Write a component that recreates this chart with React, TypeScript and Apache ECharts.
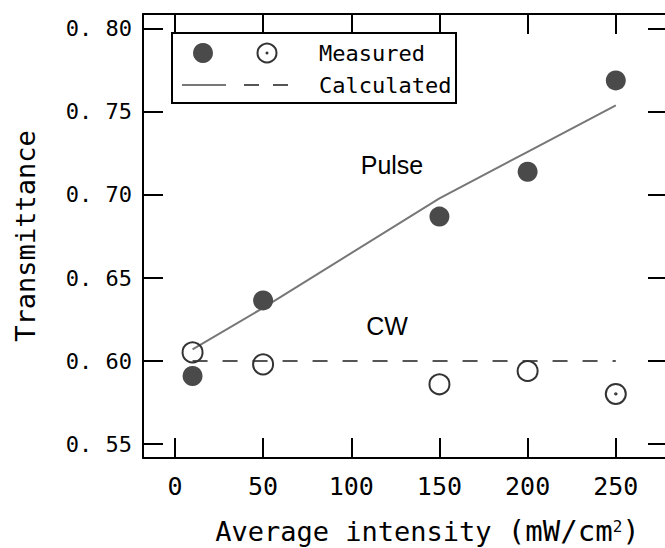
import React, { useEffect, useRef } from "react";
import * as echarts from "echarts";

const xTicks = [0, 50, 100, 150, 200, 250];
const yTicks = [0.55, 0.6, 0.65, 0.7, 0.75, 0.8];

const intensity = [10, 50, 150, 200, 250];
const pulseMeasured = [0.591, 0.6365, 0.687, 0.714, 0.769];
const cwMeasured = [0.6052, 0.598, 0.586, 0.594, 0.5802];
const pulseCalculated = [0.607, 0.632, 0.698, 0.726, 0.754];
const cwCalcX = [10, 250];
const cwCalculated = [0.6, 0.6];

const MONO = "'DejaVu Sans Mono', 'Liberation Mono', monospace";
const SANS = "'Liberation Sans', Arial, sans-serif";

export default function App() {
  const ref = useRef<HTMLDivElement>(null);
  useEffect(() => {
    if (!ref.current) return;
    const chart = echarts.init(ref.current, null, { renderer: "svg" });
    const axisLine = { show: true, onZero: false, lineStyle: { color: "#000", width: 2 } };
    const tick = (vals: number[]) => ({
      show: true,
      inside: true,
      length: 20,
      customValues: vals,
      lineStyle: { color: "#000", width: 2 },
    });
    const xMin = -18.1;
    const xMax = 279.6;
    const yMin = 0.5416;
    const yMax = 0.809;
    const ringPath =
      "path://M0,-10A10,10,0,1,1,0,10A10,10,0,1,1,0,-10Z M0,-0.7A0.7,0.7,0,1,1,0,0.7A0.7,0.7,0,1,1,0,-0.7Z";
    chart.setOption({
      animation: false,
      grid: { left: 143, top: 14, bottom: 90, right: -3, outerBoundsMode: "none", containLabel: false },
      xAxis: [
        {
          type: "value",
          min: xMin,
          max: xMax,
          position: "bottom",
          axisLine,
          axisTick: tick(xTicks),
          splitLine: { show: false },
          axisLabel: {
            customValues: xTicks,
            margin: 16,
            fontFamily: MONO,
            fontSize: 25,
            color: "#000",
          },
          name: "{a|Average intensity }{b|(mW/cm}{s|2}{b|)}",
          nameLocation: "middle",
          nameGap: 60,
          nameTextStyle: {
            padding: [0, 0, 0, 44],
            lineHeight: 26,
            rich: {
              a: { fontFamily: MONO, fontSize: 27, color: "#000", lineHeight: 26 },
              b: { fontFamily: MONO, fontSize: 29, color: "#000", lineHeight: 26 },
              s: { fontFamily: MONO, fontSize: 16, color: "#000", verticalAlign: "top", lineHeight: 16 },
            },
          },
        },
        {
          type: "value",
          min: xMin,
          max: xMax,
          position: "top",
          axisLine,
          axisTick: tick(xTicks),
          splitLine: { show: false },
          axisLabel: { show: false },
        },
      ],
      yAxis: [
        {
          type: "value",
          min: yMin,
          max: yMax,
          position: "left",
          axisLine,
          axisTick: tick(yTicks),
          splitLine: { show: false },
          axisLabel: {
            customValues: yTicks,
            margin: 11,
            fontFamily: MONO,
            fontSize: 22,
            color: "#000",
            formatter: (v: number) => "0. " + Math.round(v * 100),
          },
          name: "Transmittance",
          nameLocation: "middle",
          nameGap: 104,
          nameTextStyle: { fontFamily: MONO, fontSize: 27, color: "#000" },
        },
        {
          type: "value",
          min: yMin,
          max: yMax,
          position: "right",
          axisLine: { show: false, onZero: false },
          axisTick: {
            show: true,
            inside: true,
            length: 20,
            customValues: yTicks,
            lineStyle: { color: "#000", width: 2, cap: "butt" },
          },
          splitLine: { show: false },
          axisLabel: { show: false },
        },
      ],
      series: [
        {
          name: "Calculated (Pulse)",
          type: "line",
          data: intensity.map((x, i) => [x, pulseCalculated[i]]),
          showSymbol: false,
          symbol: "none",
          lineStyle: { color: "#777", width: 2 },
          z: 2,
        },
        {
          name: "Calculated (CW)",
          type: "line",
          data: cwCalcX.map((x, i) => [x, cwCalculated[i]]),
          showSymbol: false,
          symbol: "none",
          lineStyle: { color: "#555", width: 2, type: [15, 15] },
          z: 2,
        },
        {
          name: "Measured (Pulse)",
          type: "scatter",
          data: intensity.map((x, i) => [x, pulseMeasured[i]]),
          symbol: "circle",
          symbolSize: 20,
          itemStyle: { color: "#4a4a4a", opacity: 1 },
          z: 3,
        },
        {
          name: "Measured (CW)",
          type: "scatter",
          data: intensity.map((x, i) =>
            i === intensity.length - 1
              ? { value: [x, cwMeasured[i]], symbol: ringPath }
              : [x, cwMeasured[i]]
          ),
          symbol: "circle",
          symbolSize: 20,
          itemStyle: { color: "rgba(255,255,255,0)", borderColor: "#333", borderWidth: 2, opacity: 1 },
          z: 4,
        },
      ],
      graphic: [
        {
          type: "rect",
          shape: { x: 172, y: 33, width: 284, height: 70 },
          style: { fill: "#fff", stroke: "#000", lineWidth: 2 },
          z: 10,
        },
        {
          type: "circle",
          shape: { cx: 203, cy: 53, r: 10 },
          style: { fill: "#4a4a4a" },
          z: 11,
        },
        {
          type: "circle",
          shape: { cx: 267, cy: 53, r: 9.5 },
          style: { fill: "none", stroke: "#333", lineWidth: 2 },
          z: 11,
        },
        {
          type: "circle",
          shape: { cx: 267, cy: 53, r: 1.5 },
          style: { fill: "#333" },
          z: 11,
        },
        {
          type: "line",
          shape: { x1: 182, y1: 85, x2: 226, y2: 85 },
          style: { stroke: "#777", lineWidth: 2 },
          z: 11,
        },
        {
          type: "line",
          shape: { x1: 244, y1: 85, x2: 288, y2: 85 },
          style: { stroke: "#555", lineWidth: 2, lineDash: [15, 14] },
          z: 11,
        },
        {
          type: "text",
          x: 319,
          y: 53,
          style: { text: "Measured", font: "22px " + MONO, fill: "#000", textVerticalAlign: "middle" },
          z: 11,
        },
        {
          type: "text",
          x: 319,
          y: 85,
          style: { text: "Calculated", font: "22px " + MONO, fill: "#000", textVerticalAlign: "middle" },
          z: 11,
        },
        {
          type: "text",
          x: 392,
          y: 165,
          style: { text: "Pulse", font: "25px " + SANS, fill: "#000", textAlign: "center", textVerticalAlign: "middle" },
          z: 11,
        },
        {
          type: "text",
          x: 387,
          y: 326,
          style: { text: "CW", font: "25px " + SANS, fill: "#000", textAlign: "center", textVerticalAlign: "middle" },
          z: 11,
        },
      ],
    });
    return () => chart.dispose();
  }, []);
  return (
    <div
      ref={ref}
      style={{ position: "fixed", left: 0, top: 0, width: 665, height: 548, background: "#fff" }}
    />
  );
}
